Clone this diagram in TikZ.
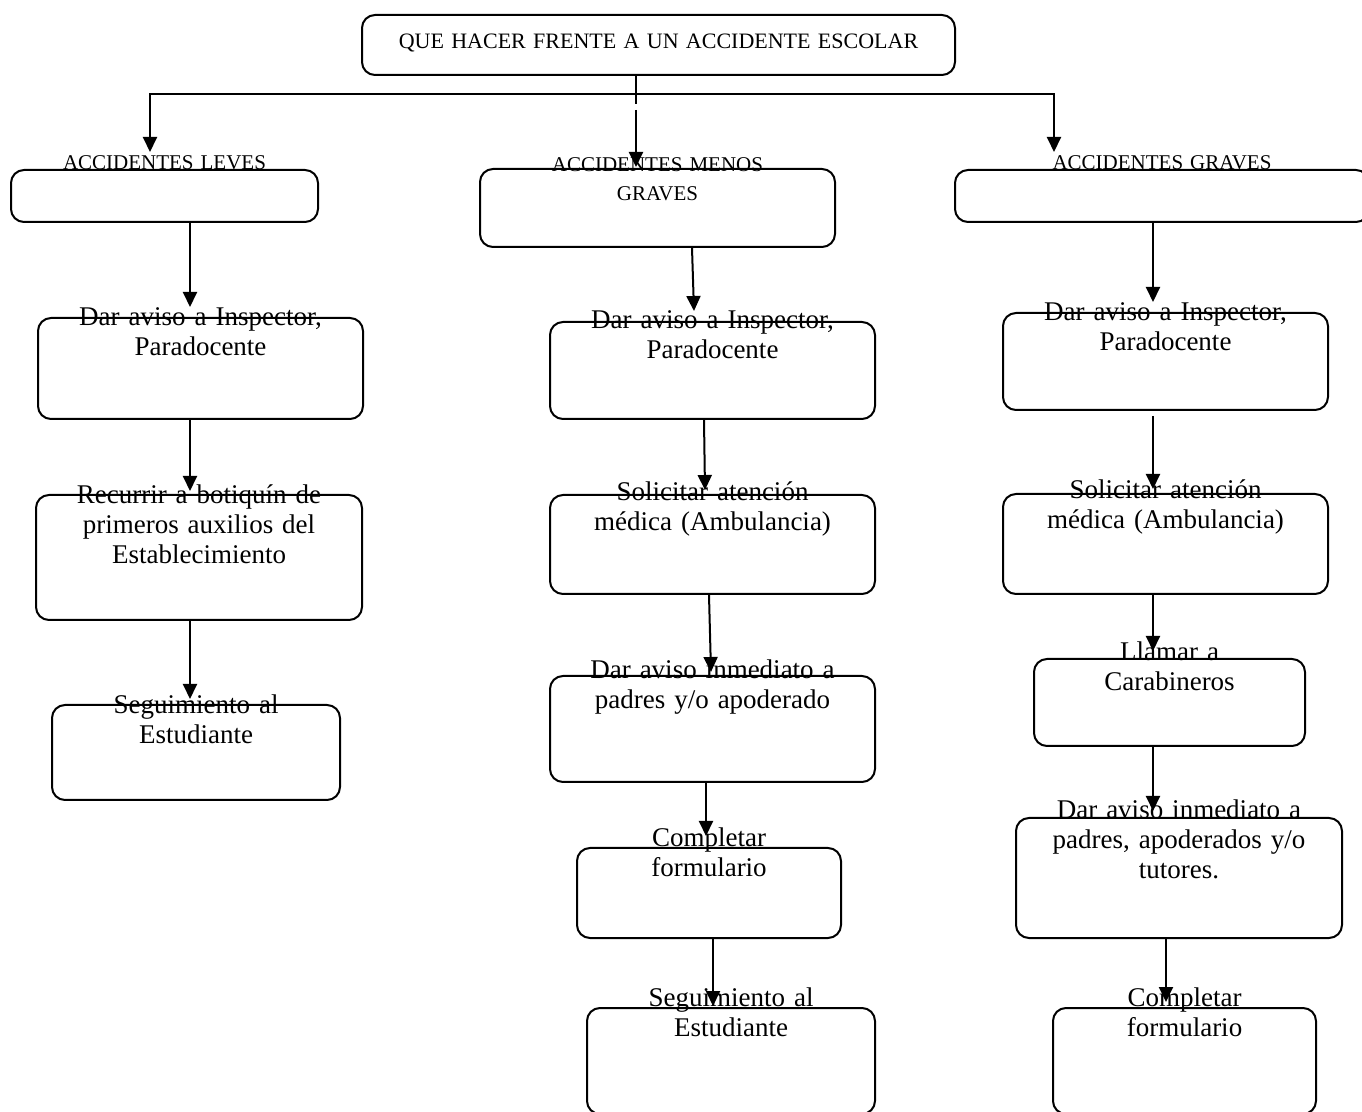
\documentclass[tikz,border=0pt]{standalone}
\usepackage{fontspec}
\setmainfont{Liberation Serif}
\usetikzlibrary{arrows.meta}

\begin{document}
\begin{tikzpicture}[x=0.5pt, y=-0.5pt]

% Define styles
\tikzstyle{box} = [rectangle, rounded corners=6.5pt, draw=black, line width=1pt, inner sep=0pt]
\tikzstyle{txt} = [text width=180pt, align=center, inner sep=0pt, anchor=base, font=\fontsize{13.5}{15}\selectfont]
\tikzstyle{head} = [text width=200pt, align=center, inner sep=0pt, anchor=base, font=\fontsize{10.5}{14.5}\selectfont]
\tikzstyle{arrow} = [line width=1pt, -{Triangle[length=7.5pt, width=7pt]}]
\tikzstyle{line} = [line width=1pt]

\useasboundingbox (0,0) rectangle (1362,1112);
\clip (0,0) rectangle (1362,1112);

% Top: title
\node (title) [box, minimum width=296.5pt, minimum height=30pt] at (658.5,45) {};
\node (titletxt) [head, text width=300pt, font=\fontsize{11}{13}\selectfont] at ([yshift=-17.5pt]title.north) {QUE HACER FRENTE A UN ACCIDENTE ESCOLAR};

% Kinds of accident
\node (leves) [box, minimum width=153.5pt, minimum height=26pt] at (164.5,196) {};
\node (menos) [box, minimum width=177.5pt, minimum height=39pt] at (657.5,208) {};
\node (graves) [box, minimum width=207pt, minimum height=26pt] at (1162,196) {};
\node (levestxt) [head] at ([yshift=-0.5pt]leves.north) {ACCIDENTES LEVES};
\node (menostxt) [head] at ([yshift=-2pt]menos.north) {ACCIDENTES MENOS\\GRAVES};
\node (gravestxt) [head] at ([yshift=-0.5pt]graves.north) {ACCIDENTES GRAVES};

% Left column: leves
\node (l1) [box, minimum width=162.5pt, minimum height=50.5pt] at (200.5,368.5) {};
\node (l2) [box, minimum width=163pt, minimum height=62.5pt] at (199,557.5) {};
\node (l3) [box, minimum width=144pt, minimum height=47.5pt] at (196,752.5) {};
\node (l1txt) [txt] at ([yshift=-4.5pt]l1.north) {Dar aviso a Inspector,\\Paradocente};
\node (l2txt) [txt] at ([yshift=-5pt]l2.north) {Recurrir a botiquín de\\primeros auxilios del\\Establecimiento};
\node (l3txt) [txt] at ([yshift=-5pt]l3.north) {Seguimiento al\\Estudiante};

% Middle column: menos graves
\node (m1) [box, minimum width=162.5pt, minimum height=48.5pt] at (712.5,370.5) {};
\node (m2) [box, minimum width=162.5pt, minimum height=49.5pt] at (712.5,544.5) {};
\node (m3) [box, minimum width=162.5pt, minimum height=53pt] at (712.5,729) {};
\node (m4) [box, minimum width=132pt, minimum height=45pt] at (709,893) {};
\node (m5) [box, minimum width=144pt, minimum height=53pt] at (731,1061) {};
\node (m1txt) [txt] at ([yshift=-4pt]m1.north) {Dar aviso a Inspector,\\Paradocente};
\node (m2txt) [txt] at ([yshift=-3.5pt]m2.north) {Solicitar atención\\médica (Ambulancia)};
\node (m3txt) [txt] at ([yshift=-2pt]m3.north) {Dar aviso inmediato a\\padres y/o apoderado};
\node (m4txt) [txt] at (m4.north) {Completar\\formulario};
\node (m5txt) [txt] at ([yshift=0.5pt]m5.north) {Seguimiento al\\Estudiante};

% Right column: graves
\node (r1) [box, minimum width=162.5pt, minimum height=48.5pt] at (1165.5,361.5) {};
\node (r2) [box, minimum width=162.5pt, minimum height=50pt] at (1165.5,544) {};
\node (r3) [box, minimum width=135.5pt, minimum height=43.5pt] at (1169.5,702.5) {};
\node (r4) [box, minimum width=163pt, minimum height=60pt] at (1179,878) {};
\node (r5) [box, minimum width=131.5pt, minimum height=53pt] at (1184.5,1061) {};
\node (r1txt) [txt] at ([yshift=-4.5pt]r1.north) {Dar aviso a Inspector,\\Paradocente};
\node (r2txt) [txt] at ([yshift=-3pt]r2.north) {Solicitar atención\\médica (Ambulancia)};
\node (r3txt) [txt] at ([yshift=-1.5pt]r3.north) {Llamar a\\Carabineros};
\node (r4txt) [txt] at ([yshift=-1pt]r4.north) {Dar aviso inmediato a\\padres, apoderados y/o\\tutores.};
\node (r5txt) [txt] at (r5.north) {Completar\\formulario};

% Title to the three kinds
\coordinate (split) at ([xshift=-11.25pt, yshift=-9pt]title.south);
\draw [line] ([xshift=-11.25pt]title.south) -- ([yshift=-5pt]split);
\draw [arrow] (split) -| ([xshift=-7.25pt, yshift=8.5pt]leves.north);
\draw [arrow] (split) -| ([xshift=-54pt, yshift=8.5pt]graves.north);
\draw [arrow] ([yshift=-8pt]split) -- ([xshift=-10.75pt, yshift=0.5pt]menos.north);

% Left steps
\draw [arrow] ([xshift=12.75pt]leves.south) -- ([xshift=-5.25pt, yshift=5pt]l1.north);
\draw [arrow] ([xshift=-5.25pt]l1.south) -- ([xshift=-4.5pt, yshift=1.5pt]l2.north);
\draw [arrow] ([xshift=-4.5pt]l2.south) -- ([xshift=-3pt, yshift=2.5pt]l3.north);

% Middle steps
\draw [arrow] ([xshift=17.25pt]menos.south) -- ([xshift=-9.25pt, yshift=5pt]m1.north);
\draw [arrow] ([xshift=-4.25pt]m1.south) -- ([xshift=-3.75pt, yshift=2pt]m2.north);
\draw [arrow] ([xshift=-1.75pt]m2.south) -- ([xshift=-0.75pt, yshift=1.5pt]m3.north);
\draw [arrow] ([xshift=-3.25pt]m3.south) -- ([xshift=-1.5pt, yshift=5.5pt]m4.north);
\draw [arrow] ([xshift=2pt]m4.south) -- ([xshift=-9pt, yshift=0.5pt]m5.north);

% Right steps
\draw [arrow] ([xshift=-4.5pt]graves.south) -- ([xshift=-6.25pt, yshift=5pt]r1.north);
\draw [arrow] ([xshift=-6.25pt, yshift=-2.5pt]r1.south) -- ([xshift=-6.25pt, yshift=2pt]r2.north);
\draw [arrow] ([xshift=-6.25pt]r2.south) -- ([xshift=-8.25pt, yshift=3.5pt]r3.north);
\draw [arrow] ([xshift=-8.25pt]r3.south) -- ([xshift=-13pt, yshift=3pt]r4.north);
\draw [arrow] ([xshift=-6.5pt]r4.south) -- ([xshift=-9.25pt, yshift=2.5pt]r5.north);

\end{tikzpicture}
\end{document}
